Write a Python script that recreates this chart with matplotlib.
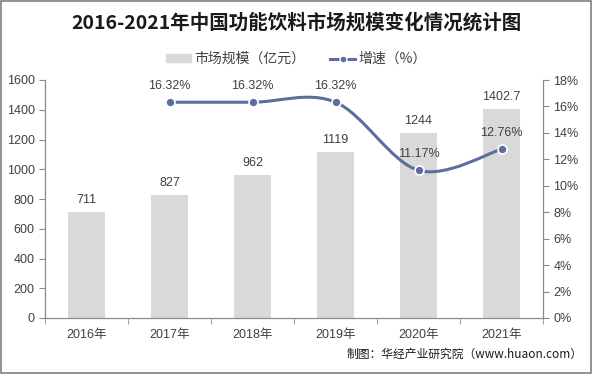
import numpy as np
import matplotlib
matplotlib.use('Agg')
import matplotlib.pyplot as plt
from matplotlib.path import Path
from matplotlib.patches import PathPatch, Rectangle
from matplotlib.lines import Line2D

plt.rcParams['font.family'] = ['Liberation Sans', 'Noto Sans CJK SC', 'DejaVu Sans']

years = ['2016年', '2017年', '2018年', '2019年', '2020年', '2021年']
market = [711, 827, 962, 1119, 1244, 1402.7]
market_labels = ['711', '827', '962', '1119', '1244', '1402.7']
growth_years = [1, 2, 3, 4, 5]
growth = [16.32, 16.32, 16.32, 11.17, 12.76]

bar_color = '#d9d9d9'
line_color = '#5a6f9b'
text_color = '#404040'
axis_color = '#8c8c8c'

fig = plt.figure(figsize=(5.93, 3.74), dpi=100)
fig.patches.append(Rectangle((0.002, 0.003), 0.995, 0.993, transform=fig.transFigure,
                             fill=False, edgecolor='#7f7f7f', linewidth=1.2))

ax = fig.add_axes([45 / 593, 56 / 374, 498 / 593, 238 / 374])
ax2 = ax.twinx()

x = np.arange(len(years))
ax.bar(x, market, width=0.45, color=bar_color, zorder=1)
for xi, v, lab in zip(x, market, market_labels):
    ax.text(xi, v + 40, lab, ha='center', va='bottom', fontsize=9, color=text_color)

ax.set_xlim(-0.5, len(years) - 0.5)
ax.set_ylim(0, 1600)
ax.set_yticks(range(0, 1601, 200))
ax.set_xticks(x)
ax.set_xticklabels(years, fontsize=9, color=text_color)
ax.set_xticks(np.arange(-0.5, len(years), 1), minor=True)
ax.tick_params(axis='x', which='major', length=0, pad=8)
ax.tick_params(axis='x', which='minor', length=4, color=axis_color, direction='out')
ax.tick_params(axis='y', labelsize=9, labelcolor=text_color, length=4, color=axis_color)

ax2.set_ylim(0, 18)
ax2.set_yticks(range(0, 19, 2))
ax2.set_yticklabels([f'{t}%' for t in range(0, 19, 2)])
ax2.tick_params(axis='y', labelsize=9, labelcolor=text_color, length=4, color=axis_color)

for a in (ax, ax2):
    a.spines['top'].set_visible(False)
    for s in ('left', 'right', 'bottom'):
        a.spines[s].set_color(axis_color)
        a.spines[s].set_linewidth(0.9)
ax2.spines['left'].set_visible(False)
ax2.spines['bottom'].set_visible(False)
ax.spines['right'].set_visible(False)

# smoothed growth line (bezier through the points)
pts = np.column_stack([growth_years, growth]).astype(float)
verts = [tuple(pts[0])]
codes = [Path.MOVETO]
n = len(pts)
for i in range(n - 1):
    p0 = pts[i - 1] if i > 0 else pts[i]
    p1 = pts[i]
    p2 = pts[i + 1]
    p3 = pts[i + 2] if i + 2 < n else pts[i + 1]
    c1 = p1 + (p2 - p0) / 6
    c2 = p2 - (p3 - p1) / 6
    verts += [tuple(c1), tuple(c2), tuple(p2)]
    codes += [Path.CURVE4] * 3
ax2.add_patch(PathPatch(Path(verts, codes), fill=False, edgecolor=line_color,
                        linewidth=2.2, zorder=3))
ax2.plot(growth_years, growth, linestyle='none', marker='o', markersize=6.5,
         markerfacecolor=line_color, markeredgecolor='white', markeredgewidth=1.2, zorder=4)
for gx, gv in zip(growth_years, growth):
    ax2.text(gx, gv + 0.75, f'{gv:.2f}%', ha='center', va='bottom', fontsize=9, color=text_color)

fig.text(0.5, 0.94, '2016-2021年中国功能饮料市场规模变化情况统计图', ha='center', va='center',
         fontsize=14, fontweight='bold', color='#1a1a1a',
         family=['Noto Sans CJK SC', 'DejaVu Sans'])

handles = [Rectangle((0, 0), 1, 1, color=bar_color),
           Line2D([0], [0], color=line_color, linewidth=2.2, marker='o', markersize=5,
                  markerfacecolor=line_color, markeredgecolor='white')]
leg = fig.legend(handles, ['市场规模（亿元）', '增速（%）'], loc='center', bbox_to_anchor=(0.5, 0.842),
                 ncol=2, frameon=False, fontsize=10, handlelength=1.8, handleheight=0.5,
                 columnspacing=1.8, handletextpad=0.25)
for t in leg.get_texts():
    t.set_color(text_color)
    t.set_family(['Noto Sans CJK SC', 'DejaVu Sans'])

fig.text(0.983, 0.053, '制图：华经产业研究院（www.huaon.com）', ha='right', va='center',
         fontsize=8.5, color='#1a1a1a', family=['Noto Sans CJK SC', 'DejaVu Sans'])

fig.savefig('out.png', dpi=100)
